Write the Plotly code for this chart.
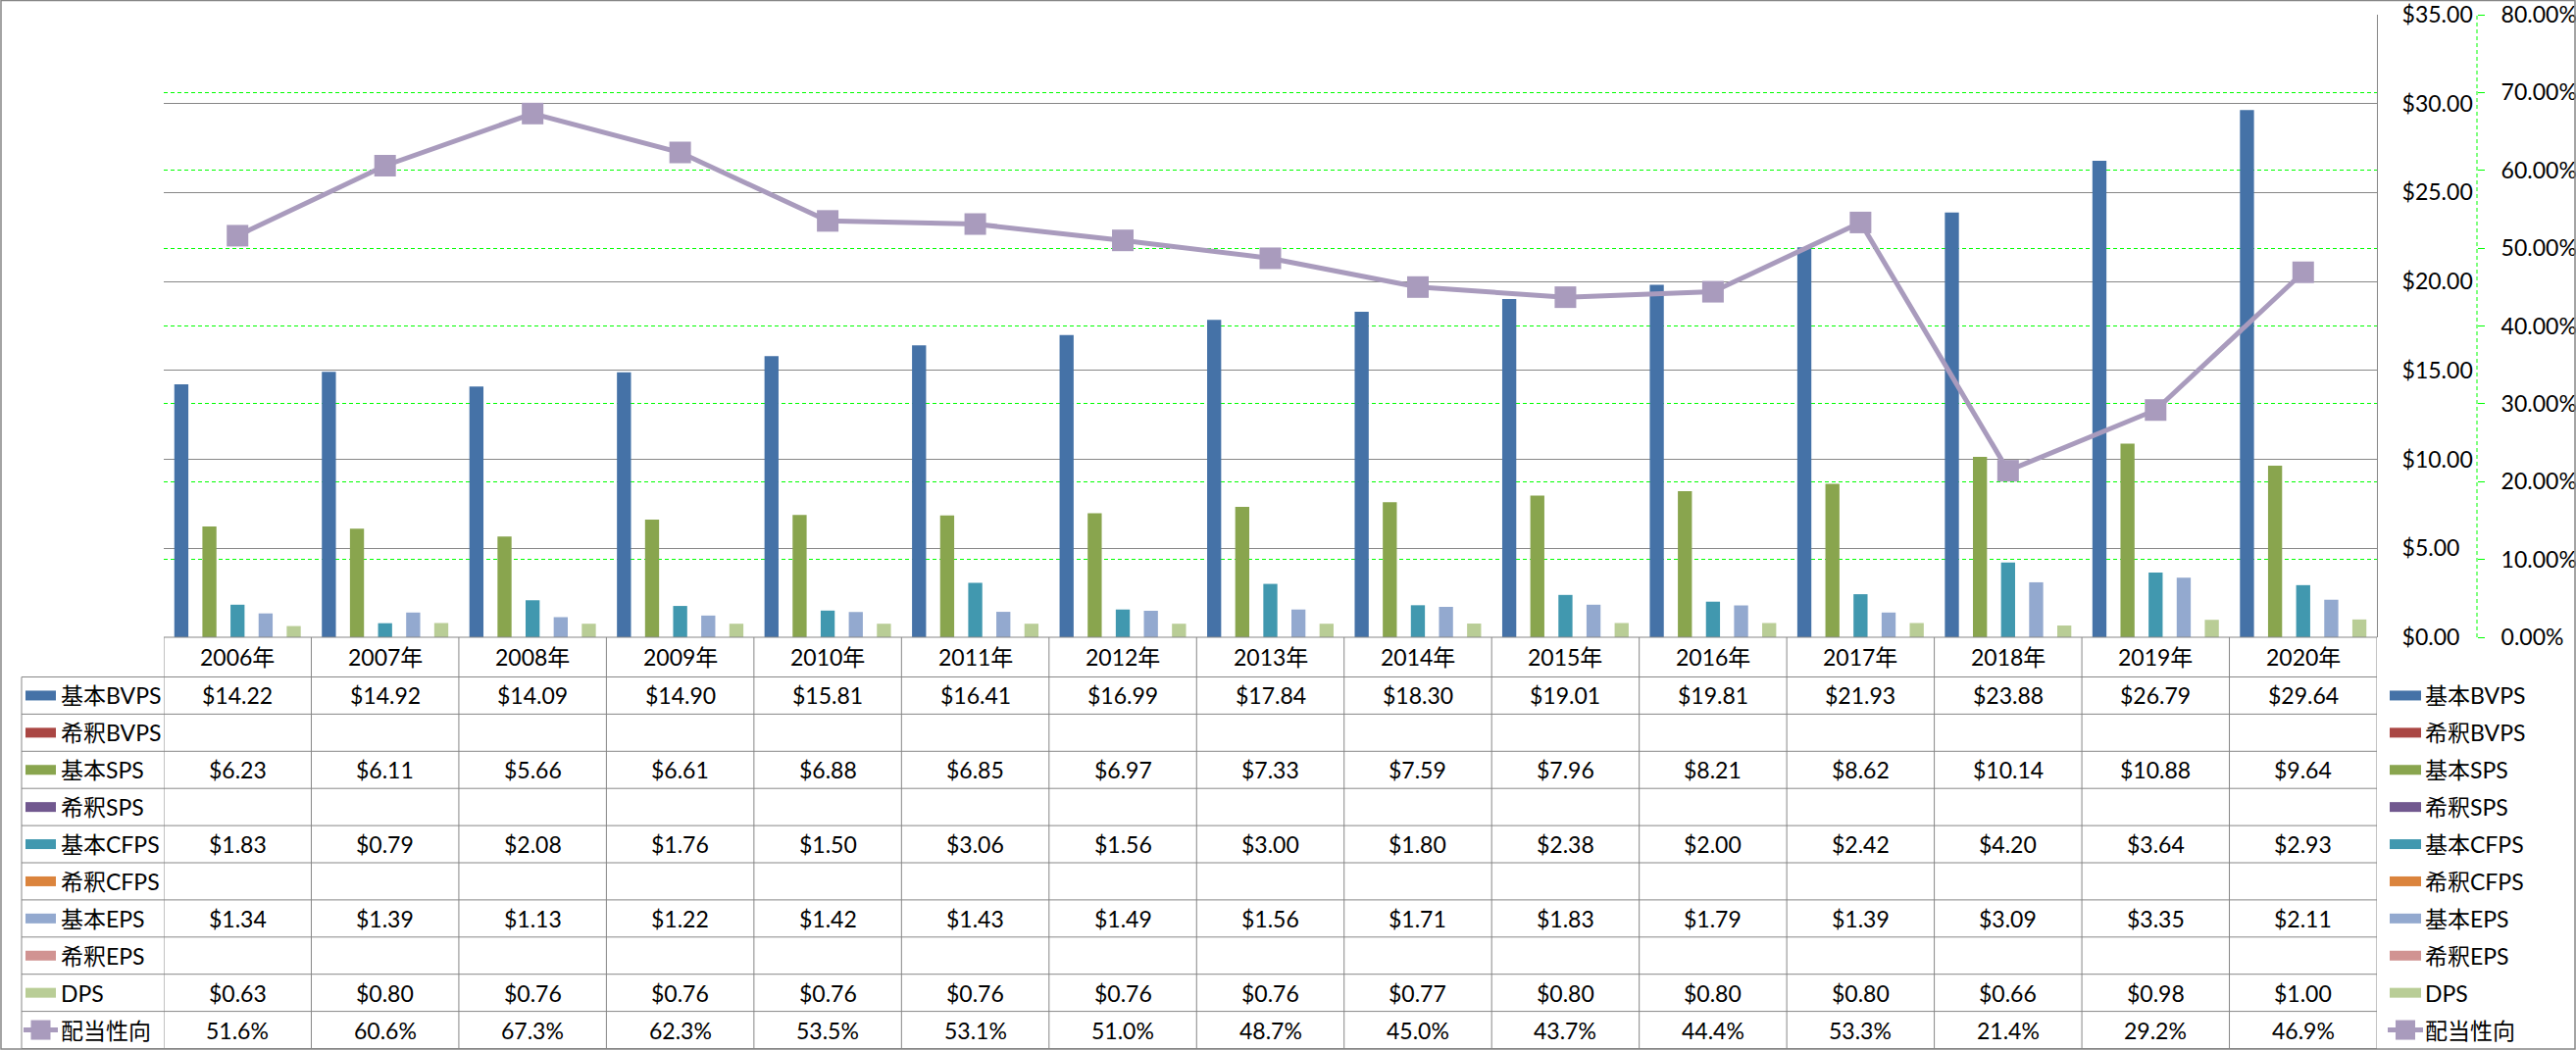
import plotly.graph_objects as go

W, H = 2627, 1071

years = ["2006年", "2007年", "2008年", "2009年", "2010年", "2011年", "2012年", "2013年",
         "2014年", "2015年", "2016年", "2017年", "2018年", "2019年", "2020年"]
bvps = [14.22, 14.92, 14.09, 14.90, 15.81, 16.41, 16.99, 17.84, 18.30, 19.01, 19.81, 21.93, 23.88, 26.79, 29.64]
sps = [6.23, 6.11, 5.66, 6.61, 6.88, 6.85, 6.97, 7.33, 7.59, 7.96, 8.21, 8.62, 10.14, 10.88, 9.64]
cfps = [1.83, 0.79, 2.08, 1.76, 1.50, 3.06, 1.56, 3.00, 1.80, 2.38, 2.00, 2.42, 4.20, 3.64, 2.93]
eps = [1.34, 1.39, 1.13, 1.22, 1.42, 1.43, 1.49, 1.56, 1.71, 1.83, 1.79, 1.39, 3.09, 3.35, 2.11]
dps = [0.63, 0.80, 0.76, 0.76, 0.76, 0.76, 0.76, 0.76, 0.77, 0.80, 0.80, 0.80, 0.66, 0.98, 1.00]
empty = [None] * 15
payout = [51.6, 60.6, 67.3, 62.3, 53.5, 53.1, 51.0, 48.7, 45.0, 43.7, 44.4, 53.3, 21.4, 29.2, 46.9]

series_names = ["基本BVPS", "希釈BVPS", "基本SPS", "希釈SPS", "基本CFPS", "希釈CFPS", "基本EPS", "希釈EPS", "DPS"]
series_vals = [bvps, empty, sps, empty, cfps, empty, eps, empty, dps]
series_colors = ["#4572A7", "#AA4643", "#89A54E", "#71588F", "#4198AF", "#DB843D", "#93A9CF", "#D19392", "#B9CD96"]
line_name = "配当性向"
line_color = "#A99BBD"

FONT = "Lato, 'Noto Sans CJK JP', sans-serif"
FS = 23
GRAY = "#878787"

def py(px):
    return 1 - px / H

def pxx(px):
    return px / W

plot_left, plot_right, plot_top, plot_bottom = 167, 2424, 15, 650

fig = go.Figure()
for name, vals, col in zip(series_names, series_vals, series_colors):
    fig.add_trace(go.Bar(x=years, y=vals, name=name, marker_color=col,
                         marker_line_width=0, showlegend=False))
fig.add_trace(go.Scatter(x=years, y=[p / 100 for p in payout], name=line_name, yaxis="y2",
                         mode="lines+markers", line=dict(color=line_color, width=5),
                         marker=dict(symbol="square", size=22, color=line_color),
                         showlegend=False))

shapes = []
annotations = []

# table horizontal lines
row_lines = [690.5 + 37.9 * k for k in range(11)]
shapes.append(dict(type="line", xref="x", yref="paper", x0=-0.5, x1=14.5,
                   y0=py(plot_bottom), y1=py(plot_bottom), line=dict(color=GRAY, width=1)))
for yl in row_lines:
    shapes.append(dict(type="line", xref="paper", yref="paper", x0=pxx(22), x1=pxx(plot_right),
                       y0=py(yl), y1=py(yl), line=dict(color=GRAY, width=1)))
# vertical lines
for k in range(16):
    shapes.append(dict(type="line", xref="x", yref="paper", x0=k - 0.5, x1=k - 0.5,
                       y0=py(plot_bottom), y1=py(row_lines[-1]), line=dict(color=GRAY, width=1)))
shapes.append(dict(type="line", xref="paper", yref="paper", x0=pxx(22), x1=pxx(22),
                   y0=py(row_lines[0]), y1=py(row_lines[-1]), line=dict(color=GRAY, width=1)))

# header
for i, yr in enumerate(years):
    annotations.append(dict(x=yr, y=py((plot_bottom + row_lines[0]) / 2), xref="x", yref="paper",
                            text=yr, showarrow=False, xanchor="center", yanchor="middle",
                            font=dict(family=FONT, size=FS, color="#000")))

row_labels = series_names + [line_name]
row_vals = series_vals + [payout]
for r, (lab, vals) in enumerate(zip(row_labels, row_vals)):
    yc = (row_lines[r] + row_lines[r + 1]) / 2
    # values
    for i, v in enumerate(vals):
        if v is None:
            continue
        txt = f"{v:.1f}%" if r == 9 else f"${v:.2f}"
        annotations.append(dict(x=years[i], y=py(yc), xref="x", yref="paper", text=txt,
                                showarrow=False, xanchor="center", yanchor="middle",
                                font=dict(family=FONT, size=FS, color="#000")))
    # left row header + right legend
    for sx0, sx1, tx in [(26, 57, 60), (2437, 2469, 2471)]:
        if r < 9:
            shapes.append(dict(type="rect", xref="paper", yref="paper", x0=pxx(sx0), x1=pxx(sx1),
                               y0=py(yc + 5), y1=py(yc - 5), fillcolor=series_colors[r],
                               line=dict(width=0)))
        else:
            shapes.append(dict(type="line", xref="paper", yref="paper", x0=pxx(sx0 - 2), x1=pxx(sx1 + 2),
                               y0=py(yc), y1=py(yc), line=dict(color=line_color, width=5)))
            cx = (sx0 + sx1) / 2
            shapes.append(dict(type="rect", xref="paper", yref="paper", x0=pxx(cx - 10), x1=pxx(cx + 10),
                               y0=py(yc + 10), y1=py(yc - 10), fillcolor=line_color,
                               line=dict(width=0)))
        annotations.append(dict(x=pxx(tx), y=py(yc), xref="paper", yref="paper", text=lab,
                                showarrow=False, xanchor="left", yanchor="middle",
                                font=dict(family=FONT, size=FS, color="#000")))

# secondary axis dashed line
sec_x = 2526
shapes.append(dict(type="line", xref="paper", yref="paper", x0=pxx(sec_x), x1=pxx(sec_x),
                   y0=py(plot_bottom), y1=py(plot_top), line=dict(color="#00FF00", width=1, dash="4px,3px")))
# outer border
shapes.append(dict(type="rect", xref="paper", yref="paper", x0=pxx(1), x1=pxx(W - 1),
                   y0=py(H - 1), y1=py(0.5), line=dict(color=GRAY, width=1.5), fillcolor="rgba(0,0,0,0)"))

fig.update_layout(
    width=W, height=H,
    margin=dict(l=0, r=0, t=0, b=0, pad=0, autoexpand=False),
    paper_bgcolor="white", plot_bgcolor="white",
    barmode="group", bargap=0.143, bargroupgap=0,
    font=dict(family=FONT, size=FS, color="#000"),
    xaxis=dict(domain=[pxx(plot_left), pxx(plot_right)], type="category", range=[-0.5, 14.5],
               showticklabels=False, showgrid=False, zeroline=False, showline=False, ticks="",
               automargin=False),
    yaxis=dict(domain=[py(plot_bottom), py(plot_top)], range=[0, 35], dtick=5, side="right",
               tickprefix="$", tickformat=".2f", showgrid=True, gridcolor=GRAY, gridwidth=1,
               zeroline=False, showline=True, linecolor=GRAY, linewidth=1, ticks="",
               automargin=False,
               ticklabelstandoff=20, tickfont=dict(family=FONT, size=FS, color="#000")),
    yaxis2=dict(overlaying="y", side="right", anchor="free", position=pxx(sec_x),
                range=[0, 0.8], dtick=0.1, tickformat=".2%", showgrid=True, gridcolor="#00FF00",
                griddash="4px,3px", gridwidth=1, zeroline=False, showline=False,
                ticks="outside", ticklen=7, tickcolor="#00FF00", tickwidth=1,
                automargin=False,
                ticklabelstandoff=12, tickfont=dict(family=FONT, size=FS, color="#000")),
    shapes=shapes, annotations=annotations,
)

fig.write_html("out.html")
